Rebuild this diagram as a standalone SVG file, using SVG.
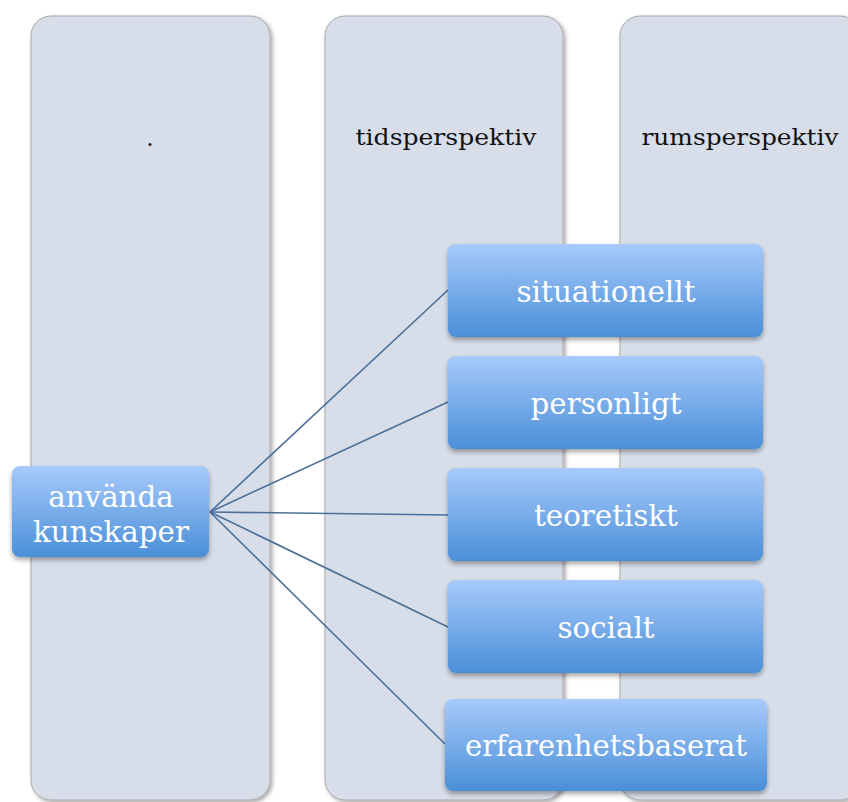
<svg xmlns="http://www.w3.org/2000/svg" width="848" height="802" viewBox="0 0 848 802">
  <defs>
    <linearGradient id="boxFill" x1="0" y1="0" x2="0" y2="1">
      <stop offset="0" stop-color="#a7cafb"/>
      <stop offset="1" stop-color="#4a8fd8"/>
    </linearGradient>
    <filter id="colShadow" x="-10%" y="-5%" width="125%" height="115%">
      <feGaussianBlur in="SourceAlpha" stdDeviation="2"/>
      <feOffset dx="1.5" dy="1.5" result="b"/>
      <feComponentTransfer><feFuncA type="linear" slope="0.35"/></feComponentTransfer>
      <feMerge><feMergeNode/><feMergeNode in="SourceGraphic"/></feMerge>
    </filter>
    <filter id="boxShadow" x="-10%" y="-20%" width="125%" height="150%">
      <feGaussianBlur in="SourceAlpha" stdDeviation="2.5"/>
      <feOffset dx="0" dy="3" result="b"/>
      <feComponentTransfer><feFuncA type="linear" slope="0.35"/></feComponentTransfer>
      <feMerge><feMergeNode/><feMergeNode in="SourceGraphic"/></feMerge>
    </filter>
  </defs>
  <style>
    .col { fill: #d7deea; stroke: #a9a9a9; stroke-width: 1; filter: url(#colShadow); }
    .colLabel { font-family: "DejaVu Serif", "Liberation Serif", serif; font-size: 23px; fill: #111111; text-anchor: middle; }
    .box { fill: url(#boxFill); filter: url(#boxShadow); }
    .boxLabel { font-family: "DejaVu Serif", "Liberation Serif", serif; font-size: 29.3px; fill: #ffffff; text-anchor: middle; }
    .link { stroke: #4c6f98; stroke-width: 1.6; fill: none; }
  </style>

  <rect width="848" height="802" fill="#ffffff"/>

  <!-- background columns -->
  <g id="col-1">
    <rect class="col" x="31" y="16" width="239" height="784" rx="20"/>
    <text class="colLabel" x="150" y="146">.</text>
  </g>
  <g id="col-tid">
    <rect class="col" x="325" y="16" width="238" height="784" rx="20"/>
    <text class="colLabel" x="446" y="145" textLength="181" lengthAdjust="spacingAndGlyphs">tidsperspektiv</text>
  </g>
  <g id="col-rum">
    <rect class="col" x="620" y="16" width="240" height="784" rx="20"/>
    <text class="colLabel" x="740" y="145" textLength="197" lengthAdjust="spacingAndGlyphs">rumsperspektiv</text>
  </g>

  <!-- connectors from the root node -->
  <g id="connectors">
    <line class="link" x1="210" y1="512" x2="448" y2="290"/>
    <line class="link" x1="210" y1="512" x2="448" y2="402"/>
    <line class="link" x1="210" y1="512" x2="448" y2="515"/>
    <line class="link" x1="210" y1="512" x2="448" y2="627"/>
    <line class="link" x1="210" y1="512" x2="445" y2="744"/>
  </g>

  <g id="node-anvanda">
    <rect class="box" x="12" y="466" width="197" height="91" rx="8"/>
    <text class="boxLabel" x="111" y="507">använda</text>
    <text class="boxLabel" x="111" y="542">kunskaper</text>
  </g>
  <g id="node-situationellt">
    <rect class="box" x="448" y="244" width="315" height="93" rx="8"/>
    <text class="boxLabel" x="606" y="302" textLength="179" lengthAdjust="spacingAndGlyphs">situationellt</text>
  </g>
  <g id="node-personligt">
    <rect class="box" x="448" y="356" width="315" height="93" rx="8"/>
    <text class="boxLabel" x="606" y="414">personligt</text>
  </g>
  <g id="node-teoretiskt">
    <rect class="box" x="448" y="468" width="315" height="93" rx="8"/>
    <text class="boxLabel" x="606" y="526">teoretiskt</text>
  </g>
  <g id="node-socialt">
    <rect class="box" x="448" y="580" width="315" height="93" rx="8"/>
    <text class="boxLabel" x="606" y="638">socialt</text>
  </g>
  <g id="node-erfarenhetsbaserat">
    <rect class="box" x="445" y="699" width="322" height="92" rx="8"/>
    <text class="boxLabel" x="606" y="756" textLength="282" lengthAdjust="spacingAndGlyphs">erfarenhetsbaserat</text>
  </g>
</svg>
